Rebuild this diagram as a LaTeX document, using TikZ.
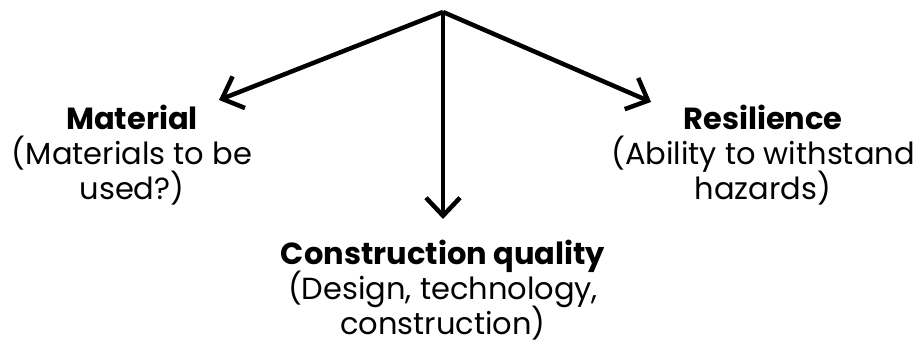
\documentclass[tikz,border=0pt]{standalone}
\usepackage{fontspec}
\setmainfont{Poppins}
\usetikzlibrary{arrows.meta}
\newcommand{\labelfont}{\fontsize{30.5}{35}\selectfont\lineskiplimit=-40pt\relax}
\tikzset{
	branch/.style={line width=4.5pt, -{Straight Barb[length=18pt,width=34pt,line width=4.5pt]}},
	label/.style={align=center, font={\labelfont}, inner sep=0pt, anchor=base}
}
\begin{document}
\begin{tikzpicture}[x=1pt,y=-1pt]
		\useasboundingbox (0,0) rectangle (917,344);
		\coordinate (top) at (443,12);
		\coordinate (matTip) at (219,100);
		\coordinate (conTip) at (443,219);
		\coordinate (resTip) at (651,102);
		
		% base anchor sits on the last line
		\node[label] (material) at (132,200) {\textbf{Material}\\(Materials to be\\used?)};
		\node[label] (construction) at (443,334) {\textbf{Construction quality}\\(Design, technology,\\construction)};
		\node[label] (resilience) at (763,200) {\textbf{Resilience}\\(Ability to withstand\\hazards)};
		
		\draw[branch](top)--(matTip);
		\draw[branch](top)--(conTip);
		\draw[branch](top)--(resTip);
	\end{tikzpicture}
\end{document}
